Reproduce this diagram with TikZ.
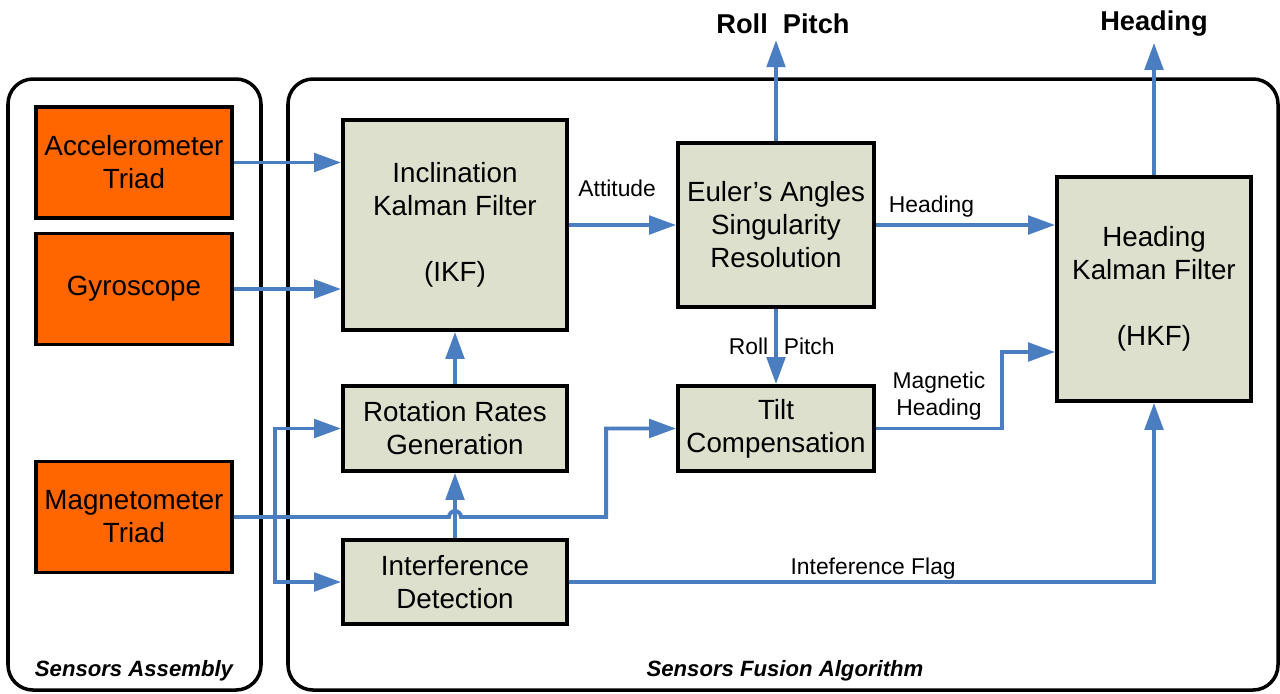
\documentclass[tikz,border=0pt]{standalone}
\usepackage{fontspec}
\setmainfont{Liberation Sans}
\usetikzlibrary{positioning,calc,arrows.meta}
\definecolor{flowblue}{RGB}{74,126,193}
\definecolor{boxgray}{RGB}{221,224,205}
\definecolor{sensororange}{RGB}{255,102,0}

\begin{document}
\begin{tikzpicture}[x=0.2mm, y=-0.2mm,
	block/.style={draw, line width=2.2pt, fill=boxgray, align=center, font=\fontsize{15.8}{18.8}\selectfont, inner sep=2pt},
	sensor/.style={block, fill=sensororange, minimum width=39.2mm, minimum height=22.2mm},
	flow/.style={draw=flowblue, line width=2.2pt, -{Triangle[length=5.4mm, width=3.7mm]}},
	lbl/.style={font=\fontsize{13}{15.5}\selectfont, align=center},
	outlbl/.style={font=\fontsize{15.5}{18}\selectfont\bfseries},
	panel/.style={draw, line width=2pt, rounded corners=5mm},
	paneltitle/.style={font=\fontsize{12.6}{15}\selectfont\bfseries\itshape}]
	\useasboundingbox (0,0) rectangle (1280,693);
	% the two panels
	\draw[panel] (8,79) rectangle (261,690);
	\draw[panel] (288,79) rectangle (1278,690);
	\node[paneltitle] (sa) at (134,671) {Sensors Assembly};
	\node[paneltitle] (sfa) at (785,671) {Sensors Fusion Algorithm};
	% sensors
	\node[sensor] (acc) at (134,162.5) {Accelerometer\\Triad};
	\node[sensor] (gyro) at (134,289) {Gyroscope};
	\node[sensor] (mag) at (134,517) {Magnetometer\\Triad};
	% fusion blocks
	\node[block, minimum width=44.8mm, minimum height=42mm] (ikf) at (455,225) {Inclination\\Kalman Filter\\ \\(IKF)};
	\node[block, minimum width=39.2mm, minimum height=32.8mm] (euler) at (776,225) {Euler’s Angles\\Singularity\\Resolution};
	\node[block, minimum width=38.8mm, minimum height=44.8mm] (hkf) at (1154,289) {Heading\\Kalman Filter\\ \\(HKF)};
	\node[block, minimum width=44.8mm, minimum height=17mm] (rot) at (455,428.5) {Rotation Rates\\Generation};
	\node[block, minimum width=39.2mm, minimum height=17mm] (tilt) at (776,428.5) {Tilt\\Compensation};
	\node[block, minimum width=44.8mm, minimum height=16.8mm] (intf) at (455,582) {Interference\\Detection};
	% outputs
	\node[outlbl] (rp) at (783,24) {Roll\ \ Pitch};
	\node[outlbl] (hd) at (1154,24) {Heading};
	\coordinate (split) at ($(mag.east)+(41,0)$);
	\coordinate (magbend) at ($(mag.east -| tilt.west)+(-70,0)$);
	% connectors
	\draw[flow] (acc.east) -- (acc.east -| ikf.west);
	\draw[flow] (gyro.east) -- (gyro.east -| ikf.west);
	\draw[flow] (rot.north) -- (ikf.south);
	\draw[flow] (ikf.east |- euler.west) -- node[lbl, above, pos=0.45, yshift=4mm] {Attitude} (euler.west);
	\draw[flow] (euler.north) -- (euler.north |- rp.south);
	\draw[flow] (euler.east) -- node[lbl, above, pos=0.31] {Heading} (euler.east -| hkf.west);
	\draw[flow] (euler.south) -- node[lbl, left] {Roll} node[lbl, right] {Pitch} (tilt.north);
	\draw[flow] (tilt.east) -- node[lbl, above] {Magnetic\\Heading} ++(126,0) |- ($(hkf.west)+(0,63)$);
	\draw[flow] (hkf.north) -- (hkf.north |- hd.south);
	\draw[flow] (mag.east) -- ($(mag.east -| rot.south)+(-6,0)$) arc[start angle=180, end angle=0, radius=0.12cm] -- (magbend) |- (tilt.west);
	\draw[flow] (split) |- (rot.west);
	\draw[flow] (split) |- (intf.west);
	\draw[flow] (intf.north) -- (rot.south);
	\draw[flow] (intf.east) -| node[lbl, above, pos=0.26, yshift=-1mm] {Inteference Flag} (hkf.south);
\end{tikzpicture}
\end{document}
